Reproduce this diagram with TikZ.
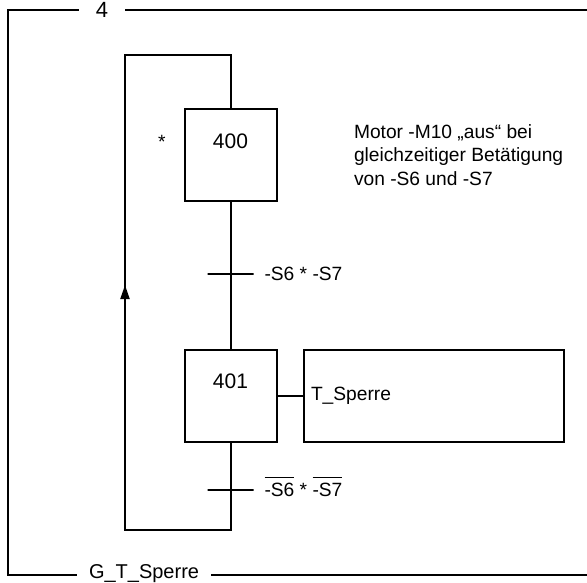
\documentclass[tikz,border=0pt]{standalone}
\usepackage{fontspec}
\setmainfont{Liberation Sans}
\usetikzlibrary{arrows.meta,positioning}

\newcommand{\nsig}[1]{$\overline{\mbox{#1}\rule{0pt}{8pt}}$}

\begin{document}
\begin{tikzpicture}[
  x=0.5pt, y=-0.5pt,
  line width=1pt,
  font=\fontsize{9.6}{11.75}\selectfont,
  stepbox/.style={draw, minimum width=46pt, inner sep=0pt, text height=19.5pt, text depth=26.5pt, font=\fontsize{10.5}{12}\selectfont},
  trans/.style={draw, minimum width=23pt, minimum height=0pt, inner sep=0pt},
  cond/.style={inner sep=0pt, text height=7pt, text depth=0pt},
  action/.style={draw, minimum height=46pt, text width=123pt, inner xsep=3.5pt, align=left},
  framelbl/.style={inner ysep=0pt, font=\fontsize{10.5}{12}\selectfont},
  note/.style={anchor=north west, inner sep=0pt, align=left},
  arrow/.style={-{Triangle[length=7pt, width=4.5pt]}}
]
\useasboundingbox (0,0) rectangle (587,582);

% frame
\coordinate (ftl) at (8,10);
\coordinate (ftr) at (587,10);
\coordinate (fbl) at (8,575);
\coordinate (fbr) at (587,575);
\node[framelbl, inner xsep=8pt, font=\fontsize{11}{12}\selectfont] (num) at (102,10) {4};
\node[framelbl, anchor=base west, inner xsep=5.5pt, font=\fontsize{10}{12}\selectfont] (grp) at (77,578.5) {G\_T\_Sperre};

\draw (num.west) -- (ftl) -- (fbl) -- (grp.west |- fbl);
\draw (num.east) -- (ftr);
\draw (grp.east |- fbr) -- (fbr);

% steps and transitions
\node[stepbox] (s400) at (230.5,155.5) {400};
\node[trans, below=35pt of s400] (t1) {};
\node[stepbox, below=37pt of t1] (s401) {401};
\node[trans, below=23pt of s401] (t2) {};
\coordinate[below=19.5pt of t2] (lr);
\coordinate (lt) at (125,55);
\coordinate (tip) at (125,285);

\node[left=8.5pt of s400.base west, anchor=base east, inner sep=0pt] (init) {*};
\node[action, right=12.75pt of s401] (act) {T\_Sperre};
\node[cond, right=4.5pt of t1] (c1) {-S6 * -S7};
\node[cond, right=4.5pt of t2] (c2) {\nsig{-S6} * \nsig{-S7}};

\node[note] (rem) at (353,123.5) {Motor -M10 „aus“ bei\\gleichzeitiger Betätigung\\von -S6 und -S7};

\draw (s400) -- (t1) -- (s401) -- (t2) -- (lr) -| (lt) -| (s400.north);
\draw (s401) -- (act);
\draw[arrow] (lt |- lr) -- (tip);
\end{tikzpicture}
\end{document}
